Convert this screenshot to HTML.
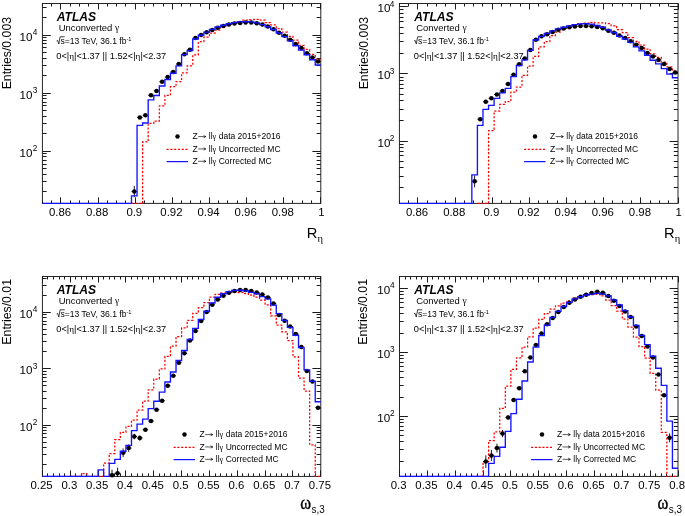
<!DOCTYPE html>
<html><head><meta charset="utf-8"><title>ATLAS shower shapes</title>
<style>html,body{margin:0;padding:0;background:#fff;}body{width:685px;height:516px;overflow:hidden;font-family:"Liberation Sans",sans-serif;}svg{display:block;will-change:transform;}</style>
</head><body>
<svg width="685" height="516" viewBox="0 0 685 516" font-family='"Liberation Sans", sans-serif' fill="#000"><g>
<path d="M42.5 203.4v-3M42.5 3.5v3M51.5 203.4v-3M51.5 3.5v3M60.5 203.4v-6M60.5 3.5v6M70.5 203.4v-3M70.5 3.5v3M79.5 203.4v-3M79.5 3.5v3M88.5 203.4v-3M88.5 3.5v3M98.5 203.4v-6M98.5 3.5v6M107.5 203.4v-3M107.5 3.5v3M116.5 203.4v-3M116.5 3.5v3M125.5 203.4v-3M125.5 3.5v3M135.5 203.4v-6M135.5 3.5v6M144.5 203.4v-3M144.5 3.5v3M153.5 203.4v-3M153.5 3.5v3M163.5 203.4v-3M163.5 3.5v3M172.5 203.4v-6M172.5 3.5v6M181.5 203.4v-3M181.5 3.5v3M190.5 203.4v-3M190.5 3.5v3M200.5 203.4v-3M200.5 3.5v3M209.5 203.4v-6M209.5 3.5v6M218.5 203.4v-3M218.5 3.5v3M227.5 203.4v-3M227.5 3.5v3M237.5 203.4v-3M237.5 3.5v3M246.5 203.4v-6M246.5 3.5v6M255.5 203.4v-3M255.5 3.5v3M265.5 203.4v-3M265.5 3.5v3M274.5 203.4v-3M274.5 3.5v3M283.5 203.4v-6M283.5 3.5v6M292.5 203.4v-3M292.5 3.5v3M302.5 203.4v-3M302.5 3.5v3M311.5 203.4v-3M311.5 3.5v3M320.5 203.4v-6M320.5 3.5v6M42.4 191.5h4.2M320.8 191.5h-4.2M42.4 181.5h4.2M320.8 181.5h-4.2M42.4 174.5h4.2M320.8 174.5h-4.2M42.4 168.5h4.2M320.8 168.5h-4.2M42.4 164.5h4.2M320.8 164.5h-4.2M42.4 160.5h4.2M320.8 160.5h-4.2M42.4 156.5h4.2M320.8 156.5h-4.2M42.4 153.5h4.2M320.8 153.5h-4.2M42.4 151.5h8.4M320.8 151.5h-8.4M42.4 133.5h4.2M320.8 133.5h-4.2M42.4 123.5h4.2M320.8 123.5h-4.2M42.4 116.5h4.2M320.8 116.5h-4.2M42.4 110.5h4.2M320.8 110.5h-4.2M42.4 105.5h4.2M320.8 105.5h-4.2M42.4 102.5h4.2M320.8 102.5h-4.2M42.4 98.5h4.2M320.8 98.5h-4.2M42.4 95.5h4.2M320.8 95.5h-4.2M42.4 93.5h8.4M320.8 93.5h-8.4M42.4 75.5h4.2M320.8 75.5h-4.2M42.4 65.5h4.2M320.8 65.5h-4.2M42.4 58.5h4.2M320.8 58.5h-4.2M42.4 52.5h4.2M320.8 52.5h-4.2M42.4 47.5h4.2M320.8 47.5h-4.2M42.4 43.5h4.2M320.8 43.5h-4.2M42.4 40.5h4.2M320.8 40.5h-4.2M42.4 37.5h4.2M320.8 37.5h-4.2M42.4 35.5h8.4M320.8 35.5h-8.4M42.4 17.5h4.2M320.8 17.5h-4.2M42.4 7.5h4.2M320.8 7.5h-4.2" stroke="#1c1c1c" stroke-width="1" fill="none"/>
<rect x="42.4" y="3.5" width="278.4" height="199.9" fill="none" stroke="#1c1c1c" stroke-width="0.95"/>
<text x="60.06" y="215.9" font-size="11.4" text-anchor="middle">0.86</text>
<text x="97.18" y="215.9" font-size="11.4" text-anchor="middle">0.88</text>
<text x="134.3" y="215.9" font-size="11.4" text-anchor="middle">0.9</text>
<text x="171.42" y="215.9" font-size="11.4" text-anchor="middle">0.92</text>
<text x="208.54" y="215.9" font-size="11.4" text-anchor="middle">0.94</text>
<text x="245.66" y="215.9" font-size="11.4" text-anchor="middle">0.96</text>
<text x="282.78" y="215.9" font-size="11.4" text-anchor="middle">0.98</text>
<text x="321.5" y="215.9" font-size="11.4" text-anchor="middle">1</text>
<text x="32.5" y="156.7" font-size="11.6" text-anchor="end">10</text>
<text x="32.8" y="151" font-size="8.3">2</text>
<text x="32.5" y="98.6" font-size="11.6" text-anchor="end">10</text>
<text x="32.8" y="92.9" font-size="8.3">3</text>
<text x="32.5" y="40.5" font-size="11.6" text-anchor="end">10</text>
<text x="32.8" y="34.8" font-size="8.3">4</text>
<text transform="translate(11.1 16.9) rotate(-90)" font-size="12.3" text-anchor="end">Entries/0.003</text>
<text x="306.8" y="238.4" font-size="14.7">R</text>
<text x="317.6" y="241.6" font-size="10.5" font-family='"Liberation Serif", serif'>η</text>
<path d="M131.49 203.4H137.06H142.62V141.8H148.19V123.3H153.76V121H159.33V105.9H164.9V95.4H170.46V86.7H176.03V81.5H181.6V72.8H187.17V65.8H192.74V54.9H198.3V41.7H203.87V37.1H209.44V33H215.01V30.1H220.58V27.2H226.14V24.6H231.71V22.9H237.28V21.5H242.85V20.2H248.42V19.6H253.98V19.4H259.55V20.2H265.12V22.5H270.69V24.9H276.26V28.6H281.82V32.1H287.39V36.3H292.96V40H298.53V45.3H304.1V49.4H309.66V54.4H315.23V59.3H320.8" stroke="#ff0000" stroke-width="1.25" stroke-dasharray="2.1 1.67" fill="none"/>
<circle cx="134.27" cy="191.5" r="2.25"/>
<circle cx="139.84" cy="117.4" r="2.25"/>
<circle cx="145.41" cy="115.3" r="2.25"/>
<circle cx="150.98" cy="95.2" r="2.25"/>
<circle cx="156.54" cy="90.9" r="2.25"/>
<circle cx="162.11" cy="81.8" r="2.25"/>
<circle cx="167.68" cy="77.1" r="2.25"/>
<circle cx="173.25" cy="71.9" r="2.25"/>
<circle cx="178.82" cy="64" r="2.25"/>
<circle cx="184.38" cy="54.2" r="2.25"/>
<circle cx="189.95" cy="49.8" r="2.25"/>
<circle cx="195.52" cy="38" r="2.25"/>
<circle cx="201.09" cy="35.1" r="2.25"/>
<circle cx="206.66" cy="32.2" r="2.25"/>
<circle cx="212.22" cy="29.9" r="2.25"/>
<circle cx="217.79" cy="27.8" r="2.25"/>
<circle cx="223.36" cy="26" r="2.25"/>
<circle cx="228.93" cy="24.5" r="2.25"/>
<circle cx="234.5" cy="23.5" r="2.25"/>
<circle cx="240.06" cy="22.9" r="2.25"/>
<circle cx="245.63" cy="22.5" r="2.25"/>
<circle cx="251.2" cy="22.4" r="2.25"/>
<circle cx="256.77" cy="23.2" r="2.25"/>
<circle cx="262.34" cy="24.6" r="2.25"/>
<circle cx="267.9" cy="26.6" r="2.25"/>
<circle cx="273.47" cy="29.3" r="2.25"/>
<circle cx="279.04" cy="32.7" r="2.25"/>
<circle cx="284.61" cy="35.7" r="2.25"/>
<circle cx="290.18" cy="39.7" r="2.25"/>
<circle cx="295.74" cy="44.1" r="2.25"/>
<circle cx="301.31" cy="48.1" r="2.25"/>
<circle cx="306.88" cy="53.2" r="2.25"/>
<circle cx="312.45" cy="57.5" r="2.25"/>
<circle cx="318.02" cy="61.6" r="2.25"/>
<path d="M134.27 185.8V197.2M131.49 191.5h5.57M137.06 117.4h5.57M142.62 115.3h5.57M148.19 95.2h5.57M153.76 90.9h5.57M159.33 81.8h5.57M164.9 77.1h5.57M170.46 71.9h5.57M176.03 64h5.57M181.6 54.2h5.57M187.17 49.8h5.57M192.74 38h5.57M198.3 35.1h5.57M203.87 32.2h5.57M209.44 29.9h5.57M215.01 27.8h5.57M220.58 26h5.57M226.14 24.5h5.57M231.71 23.5h5.57M237.28 22.9h5.57M242.85 22.5h5.57M248.42 22.4h5.57M253.98 23.2h5.57M259.55 24.6h5.57M265.12 26.6h5.57M270.69 29.3h5.57M276.26 32.7h5.57M281.82 35.7h5.57M287.39 39.7h5.57M292.96 44.1h5.57M298.53 48.1h5.57M304.1 53.2h5.57M309.66 57.5h5.57M315.23 61.6h5.57" stroke="#000" stroke-width="0.9" fill="none"/>
<path d="M42.4 203.4H47.97H53.54H59.1H64.67H70.24H75.81H81.38H86.94H92.51H98.08H103.65H109.22H114.78H120.35H125.92H131.49V195.9H137.06V125.4H142.62V123H148.19V99.8H153.76V95.5H159.33V86H164.9V79.5H170.46V73.2H176.03V65.9H181.6V54.6H187.17V50.5H192.74V39H198.3V35.2H203.87V32.1H209.44V29.3H215.01V27H220.58V25.2H226.14V23.7H231.71V22.6H237.28V21.9H242.85V21.7H248.42V21.9H253.98V22.8H259.55V24.6H265.12V26.7H270.69V29.5H276.26V33H281.82V36.6H287.39V40.8H292.96V45.7H298.53V50.1H304.1V54.7H309.66V59.7H315.23V65H320.8" stroke="#1414ff" stroke-width="1.35" fill="none" stroke-linejoin="miter"/>
<text x="56.7" y="20.6" font-size="12.1" font-weight="bold" font-style="italic">ATLAS</text>
<text x="58.8" y="31" font-size="9.45">Unconverted <tspan font-family='"Liberation Serif", serif'>γ</tspan></text>
<path d="M56.6 40.9l1.0 -0.5l1.2 3.6l1.3 -7.2h4.6" stroke="#000" stroke-width="0.75" fill="none"/>
<text x="60.6" y="44.3" font-size="8.55">s=13 TeV, 36.1 fb<tspan font-size="5.6" dy="-3.6">-1</tspan></text>
<text x="56.3" y="59" font-size="9.24">0&lt;|<tspan font-family='"Liberation Serif", serif'>η</tspan>|&lt;1.37 || 1.52&lt;|<tspan font-family='"Liberation Serif", serif'>η</tspan>|&lt;2.37</text>
<circle cx="177.5" cy="136.4" r="2.25"/>
<path d="M166.6 149.3h20.9" stroke="#ff0000" stroke-width="1.25" stroke-dasharray="2.1 1.67" fill="none"/>
<path d="M166.6 161.6h21.4" stroke="#1414ff" stroke-width="1.25" fill="none"/>
<text x="192.6" y="139.2" font-size="8.5">Z</text>
<path d="M198.1 136.6h7.6m-2.1 -1.2l2.3 1.2l-2.3 1.2" stroke="#000" stroke-width="0.65" fill="none"/>
<text x="208.8" y="139.2" font-size="8.5">ll<tspan font-family='"Liberation Serif", serif'>γ</tspan> data 2015+2016</text>
<text x="192.6" y="151.55" font-size="8.5">Z</text>
<path d="M198.1 148.95h7.6m-2.1 -1.2l2.3 1.2l-2.3 1.2" stroke="#000" stroke-width="0.65" fill="none"/>
<text x="208.8" y="151.55" font-size="8.5">ll<tspan font-family='"Liberation Serif", serif'>γ</tspan> Uncorrected MC</text>
<text x="192.6" y="163.9" font-size="8.5">Z</text>
<path d="M198.1 161.3h7.6m-2.1 -1.2l2.3 1.2l-2.3 1.2" stroke="#000" stroke-width="0.65" fill="none"/>
<text x="208.8" y="163.9" font-size="8.5">ll<tspan font-family='"Liberation Serif", serif'>γ</tspan> Corrected MC</text>
</g>
<g>
<path d="M399.5 203.4v-3M399.5 3.5v3M408.5 203.4v-3M408.5 3.5v3M417.5 203.4v-6M417.5 3.5v6M427.5 203.4v-3M427.5 3.5v3M436.5 203.4v-3M436.5 3.5v3M445.5 203.4v-3M445.5 3.5v3M455.5 203.4v-6M455.5 3.5v6M464.5 203.4v-3M464.5 3.5v3M473.5 203.4v-3M473.5 3.5v3M482.5 203.4v-3M482.5 3.5v3M492.5 203.4v-6M492.5 3.5v6M501.5 203.4v-3M501.5 3.5v3M510.5 203.4v-3M510.5 3.5v3M520.5 203.4v-3M520.5 3.5v3M529.5 203.4v-6M529.5 3.5v6M538.5 203.4v-3M538.5 3.5v3M547.5 203.4v-3M547.5 3.5v3M557.5 203.4v-3M557.5 3.5v3M566.5 203.4v-6M566.5 3.5v6M575.5 203.4v-3M575.5 3.5v3M585.5 203.4v-3M585.5 3.5v3M594.5 203.4v-3M594.5 3.5v3M603.5 203.4v-6M603.5 3.5v6M612.5 203.4v-3M612.5 3.5v3M622.5 203.4v-3M622.5 3.5v3M631.5 203.4v-3M631.5 3.5v3M640.5 203.4v-6M640.5 3.5v6M650.5 203.4v-3M650.5 3.5v3M659.5 203.4v-3M659.5 3.5v3M668.5 203.4v-3M668.5 3.5v3M678.5 203.4v-6M678.5 3.5v6M399.4 187.5h4.2M678 187.5h-4.2M399.4 176.5h4.2M678 176.5h-4.2M399.4 167.5h4.2M678 167.5h-4.2M399.4 161.5h4.2M678 161.5h-4.2M399.4 155.5h4.2M678 155.5h-4.2M399.4 151.5h4.2M678 151.5h-4.2M399.4 147.5h4.2M678 147.5h-4.2M399.4 144.5h4.2M678 144.5h-4.2M399.4 141.5h8.4M678 141.5h-8.4M399.4 120.5h4.2M678 120.5h-4.2M399.4 109.5h4.2M678 109.5h-4.2M399.4 100.5h4.2M678 100.5h-4.2M399.4 94.5h4.2M678 94.5h-4.2M399.4 88.5h4.2M678 88.5h-4.2M399.4 84.5h4.2M678 84.5h-4.2M399.4 80.5h4.2M678 80.5h-4.2M399.4 77.5h4.2M678 77.5h-4.2M399.4 73.5h8.4M678 73.5h-8.4M399.4 53.5h4.2M678 53.5h-4.2M399.4 41.5h4.2M678 41.5h-4.2M399.4 33.5h4.2M678 33.5h-4.2M399.4 27.5h4.2M678 27.5h-4.2M399.4 21.5h4.2M678 21.5h-4.2M399.4 17.5h4.2M678 17.5h-4.2M399.4 13.5h4.2M678 13.5h-4.2M399.4 9.5h4.2M678 9.5h-4.2M399.4 6.5h8.4M678 6.5h-8.4" stroke="#1c1c1c" stroke-width="1" fill="none"/>
<rect x="399.4" y="3.5" width="278.6" height="199.9" fill="none" stroke="#1c1c1c" stroke-width="0.95"/>
<text x="417.07" y="215.9" font-size="11.4" text-anchor="middle">0.86</text>
<text x="454.22" y="215.9" font-size="11.4" text-anchor="middle">0.88</text>
<text x="491.37" y="215.9" font-size="11.4" text-anchor="middle">0.9</text>
<text x="528.51" y="215.9" font-size="11.4" text-anchor="middle">0.92</text>
<text x="565.66" y="215.9" font-size="11.4" text-anchor="middle">0.94</text>
<text x="602.81" y="215.9" font-size="11.4" text-anchor="middle">0.96</text>
<text x="639.95" y="215.9" font-size="11.4" text-anchor="middle">0.98</text>
<text x="678.7" y="215.9" font-size="11.4" text-anchor="middle">1</text>
<text x="390.4" y="146.54" font-size="11.6" text-anchor="end">10</text>
<text x="389.8" y="140.84" font-size="8.3">2</text>
<text x="390.4" y="79.47" font-size="11.6" text-anchor="end">10</text>
<text x="389.8" y="73.77" font-size="8.3">3</text>
<text x="390.4" y="12.4" font-size="11.6" text-anchor="end">10</text>
<text x="389.8" y="6.7" font-size="8.3">4</text>
<text transform="translate(368.1 16.9) rotate(-90)" font-size="12.3" text-anchor="end">Entries/0.003</text>
<text x="664" y="238.4" font-size="14.7">R</text>
<text x="674.8" y="241.6" font-size="10.5" font-family='"Liberation Serif", serif'>η</text>
<path d="M477.41 203.4H482.98H488.55V130.7H494.12V111H499.7V104.4H505.27V101.5H510.84V92.2H516.41V87H521.98V75.3H527.56V66.1H533.13V56.4H538.7V46.8H544.27V41.6H549.84V35.6H555.42V32.1H560.99V29H566.56V26.5H572.13V25H577.7V23.7H583.28V23.1H588.85V22.3H594.42V22.8H599.99H605.56V23.7H611.14V25.8H616.71V29.7H622.28V32.7H627.85V37.6H633.42V41.3H639V45H644.57V49.2H650.14V53.8H655.71V57.4H661.28V62H666.86V66.8H672.43V71.1H678" stroke="#ff0000" stroke-width="1.25" stroke-dasharray="2.1 1.67" fill="none"/>
<circle cx="474.62" cy="181.3" r="2.25"/>
<circle cx="480.19" cy="119.2" r="2.25"/>
<circle cx="485.77" cy="101.8" r="2.25"/>
<circle cx="491.34" cy="98.3" r="2.25"/>
<circle cx="496.91" cy="94.5" r="2.25"/>
<circle cx="502.48" cy="91" r="2.25"/>
<circle cx="508.05" cy="84" r="2.25"/>
<circle cx="513.63" cy="74.8" r="2.25"/>
<circle cx="519.2" cy="64.2" r="2.25"/>
<circle cx="524.77" cy="58.5" r="2.25"/>
<circle cx="530.34" cy="50" r="2.25"/>
<circle cx="535.91" cy="39.8" r="2.25"/>
<circle cx="541.49" cy="36.3" r="2.25"/>
<circle cx="547.06" cy="34.2" r="2.25"/>
<circle cx="552.63" cy="31.9" r="2.25"/>
<circle cx="558.2" cy="29.8" r="2.25"/>
<circle cx="563.77" cy="28.4" r="2.25"/>
<circle cx="569.35" cy="27.2" r="2.25"/>
<circle cx="574.92" cy="26.4" r="2.25"/>
<circle cx="580.49" cy="26" r="2.25"/>
<circle cx="586.06" cy="26" r="2.25"/>
<circle cx="591.63" cy="26.2" r="2.25"/>
<circle cx="597.21" cy="26.9" r="2.25"/>
<circle cx="602.78" cy="28.2" r="2.25"/>
<circle cx="608.35" cy="30.7" r="2.25"/>
<circle cx="613.92" cy="32.7" r="2.25"/>
<circle cx="619.49" cy="35.5" r="2.25"/>
<circle cx="625.07" cy="38" r="2.25"/>
<circle cx="630.64" cy="41.3" r="2.25"/>
<circle cx="636.21" cy="44.7" r="2.25"/>
<circle cx="641.78" cy="48.1" r="2.25"/>
<circle cx="647.35" cy="53" r="2.25"/>
<circle cx="652.93" cy="56.6" r="2.25"/>
<circle cx="658.5" cy="59.9" r="2.25"/>
<circle cx="664.07" cy="64" r="2.25"/>
<circle cx="669.64" cy="69" r="2.25"/>
<circle cx="675.21" cy="72.5" r="2.25"/>
<path d="M474.62 175.3V187.3M471.84 181.3h5.57M477.41 119.2h5.57M482.98 101.8h5.57M488.55 98.3h5.57M494.12 94.5h5.57M499.7 91h5.57M505.27 84h5.57M510.84 74.8h5.57M516.41 64.2h5.57M521.98 58.5h5.57M527.56 50h5.57M533.13 39.8h5.57M538.7 36.3h5.57M544.27 34.2h5.57M549.84 31.9h5.57M555.42 29.8h5.57M560.99 28.4h5.57M566.56 27.2h5.57M572.13 26.4h5.57M577.7 26h5.57M583.28 26h5.57M588.85 26.2h5.57M594.42 26.9h5.57M599.99 28.2h5.57M605.56 30.7h5.57M611.14 32.7h5.57M616.71 35.5h5.57M622.28 38h5.57M627.85 41.3h5.57M633.42 44.7h5.57M639 48.1h5.57M644.57 53h5.57M650.14 56.6h5.57M655.71 59.9h5.57M661.28 64h5.57M666.86 69h5.57M672.43 72.5h5.57" stroke="#000" stroke-width="0.9" fill="none"/>
<path d="M399.4 203.4H404.97H410.54H416.12H421.69H427.26H432.83H438.4H443.98H449.55H455.12H460.69H466.26H471.84V174.9H477.41V125.4H482.98V109.3H488.55V105.3H494.12V98.3H499.7V92.8H505.27V88.4H510.84V76.6H516.41V65.6H521.98V59.9H527.56V50.3H533.13V40H538.7V36.3H544.27V33.4H549.84V30.9H555.42V28.9H560.99V27.2H566.56V25.8H572.13V24.6H577.7V23.9H583.28V23.7H588.85V24.1H594.42V25.5H599.99V27.2H605.56V30H611.14V32.5H616.71V36.2H622.28V39H627.85V42.4H633.42V46.8H639V50.9H644.57V55.2H650.14V60.2H655.71V63.9H661.28V68.6H666.86V74.1H672.43V77.7H678" stroke="#1414ff" stroke-width="1.35" fill="none" stroke-linejoin="miter"/>
<text x="414.2" y="20.6" font-size="12.1" font-weight="bold" font-style="italic">ATLAS</text>
<text x="416.3" y="31" font-size="9.45">Converted <tspan font-family='"Liberation Serif", serif'>γ</tspan></text>
<path d="M414.1 40.9l1.0 -0.5l1.2 3.6l1.3 -7.2h4.6" stroke="#000" stroke-width="0.75" fill="none"/>
<text x="418.1" y="44.3" font-size="8.55">s=13 TeV, 36.1 fb<tspan font-size="5.6" dy="-3.6">-1</tspan></text>
<text x="413.8" y="59" font-size="9.24">0&lt;|<tspan font-family='"Liberation Serif", serif'>η</tspan>|&lt;1.37 || 1.52&lt;|<tspan font-family='"Liberation Serif", serif'>η</tspan>|&lt;2.37</text>
<circle cx="535" cy="136.4" r="2.25"/>
<path d="M524.1 149.3h20.9" stroke="#ff0000" stroke-width="1.25" stroke-dasharray="2.1 1.67" fill="none"/>
<path d="M524.1 161.6h21.4" stroke="#1414ff" stroke-width="1.25" fill="none"/>
<text x="550.1" y="139.2" font-size="8.5">Z</text>
<path d="M555.6 136.6h7.6m-2.1 -1.2l2.3 1.2l-2.3 1.2" stroke="#000" stroke-width="0.65" fill="none"/>
<text x="566.3" y="139.2" font-size="8.5">ll<tspan font-family='"Liberation Serif", serif'>γ</tspan> data 2015+2016</text>
<text x="550.1" y="151.55" font-size="8.5">Z</text>
<path d="M555.6 148.95h7.6m-2.1 -1.2l2.3 1.2l-2.3 1.2" stroke="#000" stroke-width="0.65" fill="none"/>
<text x="566.3" y="151.55" font-size="8.5">ll<tspan font-family='"Liberation Serif", serif'>γ</tspan> Uncorrected MC</text>
<text x="550.1" y="163.9" font-size="8.5">Z</text>
<path d="M555.6 161.3h7.6m-2.1 -1.2l2.3 1.2l-2.3 1.2" stroke="#000" stroke-width="0.65" fill="none"/>
<text x="566.3" y="163.9" font-size="8.5">ll<tspan font-family='"Liberation Serif", serif'>γ</tspan> Corrected MC</text>
</g>
<g>
<path d="M42.5 476.4v-6M42.5 276.5v6M47.5 476.4v-3M47.5 276.5v3M53.5 476.4v-3M53.5 276.5v3M59.5 476.4v-3M59.5 276.5v3M64.5 476.4v-3M64.5 276.5v3M70.5 476.4v-6M70.5 276.5v6M75.5 476.4v-3M75.5 276.5v3M81.5 476.4v-3M81.5 276.5v3M86.5 476.4v-3M86.5 276.5v3M92.5 476.4v-3M92.5 276.5v3M98.5 476.4v-6M98.5 276.5v6M103.5 476.4v-3M103.5 276.5v3M109.5 476.4v-3M109.5 276.5v3M114.5 476.4v-3M114.5 276.5v3M120.5 476.4v-3M120.5 276.5v3M125.5 476.4v-6M125.5 276.5v6M131.5 476.4v-3M131.5 276.5v3M137.5 476.4v-3M137.5 276.5v3M142.5 476.4v-3M142.5 276.5v3M148.5 476.4v-3M148.5 276.5v3M153.5 476.4v-6M153.5 276.5v6M159.5 476.4v-3M159.5 276.5v3M164.5 476.4v-3M164.5 276.5v3M170.5 476.4v-3M170.5 276.5v3M176.5 476.4v-3M176.5 276.5v3M181.5 476.4v-6M181.5 276.5v6M187.5 476.4v-3M187.5 276.5v3M192.5 476.4v-3M192.5 276.5v3M198.5 476.4v-3M198.5 276.5v3M203.5 476.4v-3M203.5 276.5v3M209.5 476.4v-6M209.5 276.5v6M215.5 476.4v-3M215.5 276.5v3M220.5 476.4v-3M220.5 276.5v3M226.5 476.4v-3M226.5 276.5v3M231.5 476.4v-3M231.5 276.5v3M237.5 476.4v-6M237.5 276.5v6M242.5 476.4v-3M242.5 276.5v3M248.5 476.4v-3M248.5 276.5v3M253.5 476.4v-3M253.5 276.5v3M259.5 476.4v-3M259.5 276.5v3M265.5 476.4v-6M265.5 276.5v6M270.5 476.4v-3M270.5 276.5v3M276.5 476.4v-3M276.5 276.5v3M281.5 476.4v-3M281.5 276.5v3M287.5 476.4v-3M287.5 276.5v3M292.5 476.4v-6M292.5 276.5v6M298.5 476.4v-3M298.5 276.5v3M304.5 476.4v-3M304.5 276.5v3M309.5 476.4v-3M309.5 276.5v3M315.5 476.4v-3M315.5 276.5v3M320.5 476.4v-6M320.5 276.5v6M42.4 464.5h4.2M320.8 464.5h-4.2M42.4 454.5h4.2M320.8 454.5h-4.2M42.4 447.5h4.2M320.8 447.5h-4.2M42.4 442.5h4.2M320.8 442.5h-4.2M42.4 437.5h4.2M320.8 437.5h-4.2M42.4 433.5h4.2M320.8 433.5h-4.2M42.4 430.5h4.2M320.8 430.5h-4.2M42.4 427.5h4.2M320.8 427.5h-4.2M42.4 425.5h8.4M320.8 425.5h-8.4M42.4 408.5h4.2M320.8 408.5h-4.2M42.4 398.5h4.2M320.8 398.5h-4.2M42.4 391.5h4.2M320.8 391.5h-4.2M42.4 385.5h4.2M320.8 385.5h-4.2M42.4 381.5h4.2M320.8 381.5h-4.2M42.4 377.5h4.2M320.8 377.5h-4.2M42.4 374.5h4.2M320.8 374.5h-4.2M42.4 371.5h4.2M320.8 371.5h-4.2M42.4 368.5h8.4M320.8 368.5h-8.4M42.4 351.5h4.2M320.8 351.5h-4.2M42.4 341.5h4.2M320.8 341.5h-4.2M42.4 334.5h4.2M320.8 334.5h-4.2M42.4 329.5h4.2M320.8 329.5h-4.2M42.4 324.5h4.2M320.8 324.5h-4.2M42.4 321.5h4.2M320.8 321.5h-4.2M42.4 317.5h4.2M320.8 317.5h-4.2M42.4 314.5h4.2M320.8 314.5h-4.2M42.4 312.5h8.4M320.8 312.5h-8.4M42.4 295.5h4.2M320.8 295.5h-4.2M42.4 285.5h4.2M320.8 285.5h-4.2M42.4 278.5h4.2M320.8 278.5h-4.2" stroke="#1c1c1c" stroke-width="1" fill="none"/>
<rect x="42.4" y="276.5" width="278.4" height="199.9" fill="none" stroke="#1c1c1c" stroke-width="0.95"/>
<text x="41.5" y="488.9" font-size="11.4" text-anchor="middle">0.25</text>
<text x="69.34" y="488.9" font-size="11.4" text-anchor="middle">0.3</text>
<text x="97.18" y="488.9" font-size="11.4" text-anchor="middle">0.35</text>
<text x="125.02" y="488.9" font-size="11.4" text-anchor="middle">0.4</text>
<text x="152.86" y="488.9" font-size="11.4" text-anchor="middle">0.45</text>
<text x="180.7" y="488.9" font-size="11.4" text-anchor="middle">0.5</text>
<text x="208.54" y="488.9" font-size="11.4" text-anchor="middle">0.55</text>
<text x="236.38" y="488.9" font-size="11.4" text-anchor="middle">0.6</text>
<text x="264.22" y="488.9" font-size="11.4" text-anchor="middle">0.65</text>
<text x="292.06" y="488.9" font-size="11.4" text-anchor="middle">0.7</text>
<text x="319.9" y="488.9" font-size="11.4" text-anchor="middle">0.75</text>
<text x="32.5" y="430.7" font-size="11.6" text-anchor="end">10</text>
<text x="32.8" y="425" font-size="8.3">2</text>
<text x="32.5" y="374.25" font-size="11.6" text-anchor="end">10</text>
<text x="32.8" y="368.55" font-size="8.3">3</text>
<text x="32.5" y="317.8" font-size="11.6" text-anchor="end">10</text>
<text x="32.8" y="312.1" font-size="8.3">4</text>
<text transform="translate(11.1 279) rotate(-90)" font-size="12.3" text-anchor="end">Entries/0.01</text>
<text transform="translate(300.2 508.5) scale(1.13 1.26)" font-size="14.6" stroke="#000" stroke-width="0.3" font-family='"Liberation Serif", serif'>ω</text>
<text transform="translate(311.5 512.8) scale(1 1.14)" font-size="9.9">s,3</text>
<path d="M70.24 476.4H75.81H81.38V473.5H86.94V476.4H92.51H98.08H103.65V463.1H109.22V453.5H114.78V439.6H120.35V432.3H125.92V426.4H131.49V420.2H137.06V410.1H142.62V401.2H148.19V389.8H153.76V379H159.33V368.9H164.9V356.3H170.46V346.2H176.03V336.6H181.6V327.8H187.17V320.3H192.74V313.3H198.3V307.7H203.87V302.5H209.44V297.2H215.01V294.3H220.58V293.1H226.14V292.3H231.71V291.9H237.28V292.5H242.85V293.5H248.42V295.1H253.98V297.2H259.55V300H265.12V304.8H270.69V315.9H276.26V325H281.82V331.9H287.39V340.5H292.96V356.9H298.53V378.1H304.1V391H309.66V444.9H315.23V476.4H320.8" stroke="#ff0000" stroke-width="1.25" stroke-dasharray="2.1 1.67" fill="none"/>
<circle cx="112" cy="475.2" r="2.25"/>
<circle cx="117.57" cy="473.2" r="2.25"/>
<circle cx="123.14" cy="452.8" r="2.25"/>
<circle cx="128.7" cy="448.1" r="2.25"/>
<circle cx="134.27" cy="436.5" r="2.25"/>
<circle cx="139.84" cy="438" r="2.25"/>
<circle cx="145.41" cy="429.8" r="2.25"/>
<circle cx="150.98" cy="421" r="2.25"/>
<circle cx="156.54" cy="409.7" r="2.25"/>
<circle cx="162.11" cy="400.7" r="2.25"/>
<circle cx="167.68" cy="385.8" r="2.25"/>
<circle cx="173.25" cy="375.8" r="2.25"/>
<circle cx="178.82" cy="362.8" r="2.25"/>
<circle cx="184.38" cy="353.2" r="2.25"/>
<circle cx="189.95" cy="340.6" r="2.25"/>
<circle cx="195.52" cy="331" r="2.25"/>
<circle cx="201.09" cy="320.9" r="2.25"/>
<circle cx="206.66" cy="312.1" r="2.25"/>
<circle cx="212.22" cy="304.8" r="2.25"/>
<circle cx="217.79" cy="299.5" r="2.25"/>
<circle cx="223.36" cy="295.8" r="2.25"/>
<circle cx="228.93" cy="292.8" r="2.25"/>
<circle cx="234.5" cy="291" r="2.25"/>
<circle cx="240.06" cy="290" r="2.25"/>
<circle cx="245.63" cy="290.1" r="2.25"/>
<circle cx="251.2" cy="290.9" r="2.25"/>
<circle cx="256.77" cy="292.5" r="2.25"/>
<circle cx="262.34" cy="294.6" r="2.25"/>
<circle cx="267.9" cy="297.4" r="2.25"/>
<circle cx="273.47" cy="303.4" r="2.25"/>
<circle cx="279.04" cy="315" r="2.25"/>
<circle cx="284.61" cy="320.7" r="2.25"/>
<circle cx="290.18" cy="326.6" r="2.25"/>
<circle cx="295.74" cy="334" r="2.25"/>
<circle cx="301.31" cy="347.1" r="2.25"/>
<circle cx="306.88" cy="370.9" r="2.25"/>
<circle cx="312.45" cy="381.6" r="2.25"/>
<circle cx="318.02" cy="407.7" r="2.25"/>
<path d="M112 469.7V477M109.22 475.2h5.57M117.57 467.6V477M114.78 473.2h5.57M123.14 448.5V457.1M120.35 452.8h5.57M128.7 444.4V451.8M125.92 448.1h5.57M134.27 433.7V439.3M131.49 436.5h5.57M139.84 435.3V440.7M137.06 438h5.57M142.62 429.8h5.57M148.19 421h5.57M153.76 409.7h5.57M159.33 400.7h5.57M164.9 385.8h5.57M170.46 375.8h5.57M176.03 362.8h5.57M181.6 353.2h5.57M187.17 340.6h5.57M192.74 331h5.57M198.3 320.9h5.57M203.87 312.1h5.57M209.44 304.8h5.57M215.01 299.5h5.57M220.58 295.8h5.57M226.14 292.8h5.57M231.71 291h5.57M237.28 290h5.57M242.85 290.1h5.57M248.42 290.9h5.57M253.98 292.5h5.57M259.55 294.6h5.57M265.12 297.4h5.57M270.69 303.4h5.57M276.26 315h5.57M281.82 320.7h5.57M287.39 326.6h5.57M292.96 334h5.57M298.53 347.1h5.57M304.1 370.9h5.57M309.66 381.6h5.57M315.23 407.7h5.57" stroke="#000" stroke-width="0.9" fill="none"/>
<path d="M42.4 476.4H47.97H53.54H59.1H64.67H70.24H75.81H81.38H86.94H92.51H98.08V469.9H103.65V476.4H109.22V463.4H114.78V459.3H120.35V451.2H125.92V445.3H131.49V430.6H137.06V424.1H142.62V419.1H148.19V408.6H153.76V401.2H159.33V392.1H164.9V382H170.46V372H176.03V360.5H181.6V350.5H187.17V339.5H192.74V328.3H198.3V319.4H203.87V311.2H209.44V303H215.01V297.2H220.58V293.7H226.14V291.6H231.71V290.4H237.28V290.2H242.85V290.8H248.42V292.3H253.98V293.7H259.55V296.6H265.12V298.9H270.69V305.1H276.26V313.6H281.82V320.4H287.39V327.3H292.96V335.2H298.53V347.6H304.1V369.9H309.66V381.2H315.23V401.7H320.8" stroke="#1414ff" stroke-width="1.35" fill="none" stroke-linejoin="miter"/>
<text x="56.7" y="293.6" font-size="12.1" font-weight="bold" font-style="italic">ATLAS</text>
<text x="58.8" y="304" font-size="9.45">Unconverted <tspan font-family='"Liberation Serif", serif'>γ</tspan></text>
<path d="M56.6 313.9l1.0 -0.5l1.2 3.6l1.3 -7.2h4.6" stroke="#000" stroke-width="0.75" fill="none"/>
<text x="60.6" y="317.3" font-size="8.55">s=13 TeV, 36.1 fb<tspan font-size="5.6" dy="-3.6">-1</tspan></text>
<text x="56.3" y="332" font-size="9.24">0&lt;|<tspan font-family='"Liberation Serif", serif'>η</tspan>|&lt;1.37 || 1.52&lt;|<tspan font-family='"Liberation Serif", serif'>η</tspan>|&lt;2.37</text>
<circle cx="184.5" cy="434.4" r="2.25"/>
<path d="M173.6 447.3h20.9" stroke="#ff0000" stroke-width="1.25" stroke-dasharray="2.1 1.67" fill="none"/>
<path d="M173.6 459.6h21.4" stroke="#1414ff" stroke-width="1.25" fill="none"/>
<text x="199.6" y="437.2" font-size="8.5">Z</text>
<path d="M205.1 434.6h7.6m-2.1 -1.2l2.3 1.2l-2.3 1.2" stroke="#000" stroke-width="0.65" fill="none"/>
<text x="215.8" y="437.2" font-size="8.5">ll<tspan font-family='"Liberation Serif", serif'>γ</tspan> data 2015+2016</text>
<text x="199.6" y="449.55" font-size="8.5">Z</text>
<path d="M205.1 446.95h7.6m-2.1 -1.2l2.3 1.2l-2.3 1.2" stroke="#000" stroke-width="0.65" fill="none"/>
<text x="215.8" y="449.55" font-size="8.5">ll<tspan font-family='"Liberation Serif", serif'>γ</tspan> Uncorrected MC</text>
<text x="199.6" y="461.9" font-size="8.5">Z</text>
<path d="M205.1 459.3h7.6m-2.1 -1.2l2.3 1.2l-2.3 1.2" stroke="#000" stroke-width="0.65" fill="none"/>
<text x="215.8" y="461.9" font-size="8.5">ll<tspan font-family='"Liberation Serif", serif'>γ</tspan> Corrected MC</text>
</g>
<g>
<path d="M399.5 476.4v-6M399.5 276.5v6M405.5 476.4v-3M405.5 276.5v3M410.5 476.4v-3M410.5 276.5v3M416.5 476.4v-3M416.5 276.5v3M421.5 476.4v-3M421.5 276.5v3M427.5 476.4v-6M427.5 276.5v6M432.5 476.4v-3M432.5 276.5v3M438.5 476.4v-3M438.5 276.5v3M444.5 476.4v-3M444.5 276.5v3M449.5 476.4v-3M449.5 276.5v3M455.5 476.4v-6M455.5 276.5v6M460.5 476.4v-3M460.5 276.5v3M466.5 476.4v-3M466.5 276.5v3M471.5 476.4v-3M471.5 276.5v3M477.5 476.4v-3M477.5 276.5v3M483.5 476.4v-6M483.5 276.5v6M488.5 476.4v-3M488.5 276.5v3M494.5 476.4v-3M494.5 276.5v3M499.5 476.4v-3M499.5 276.5v3M505.5 476.4v-3M505.5 276.5v3M510.5 476.4v-6M510.5 276.5v6M516.5 476.4v-3M516.5 276.5v3M522.5 476.4v-3M522.5 276.5v3M527.5 476.4v-3M527.5 276.5v3M533.5 476.4v-3M533.5 276.5v3M538.5 476.4v-6M538.5 276.5v6M544.5 476.4v-3M544.5 276.5v3M549.5 476.4v-3M549.5 276.5v3M555.5 476.4v-3M555.5 276.5v3M561.5 476.4v-3M561.5 276.5v3M566.5 476.4v-6M566.5 276.5v6M572.5 476.4v-3M572.5 276.5v3M577.5 476.4v-3M577.5 276.5v3M583.5 476.4v-3M583.5 276.5v3M588.5 476.4v-3M588.5 276.5v3M594.5 476.4v-6M594.5 276.5v6M600.5 476.4v-3M600.5 276.5v3M605.5 476.4v-3M605.5 276.5v3M611.5 476.4v-3M611.5 276.5v3M616.5 476.4v-3M616.5 276.5v3M622.5 476.4v-6M622.5 276.5v6M627.5 476.4v-3M627.5 276.5v3M633.5 476.4v-3M633.5 276.5v3M639.5 476.4v-3M639.5 276.5v3M644.5 476.4v-3M644.5 276.5v3M650.5 476.4v-6M650.5 276.5v6M655.5 476.4v-3M655.5 276.5v3M661.5 476.4v-3M661.5 276.5v3M666.5 476.4v-3M666.5 276.5v3M672.5 476.4v-3M672.5 276.5v3M678.5 476.4v-6M678.5 276.5v6M399.5 461.5h4.2M678 461.5h-4.2M399.5 449.5h4.2M678 449.5h-4.2M399.5 441.5h4.2M678 441.5h-4.2M399.5 435.5h4.2M678 435.5h-4.2M399.5 430.5h4.2M678 430.5h-4.2M399.5 426.5h4.2M678 426.5h-4.2M399.5 422.5h4.2M678 422.5h-4.2M399.5 419.5h4.2M678 419.5h-4.2M399.5 416.5h8.4M678 416.5h-8.4M399.5 397.5h4.2M678 397.5h-4.2M399.5 385.5h4.2M678 385.5h-4.2M399.5 377.5h4.2M678 377.5h-4.2M399.5 371.5h4.2M678 371.5h-4.2M399.5 366.5h4.2M678 366.5h-4.2M399.5 362.5h4.2M678 362.5h-4.2M399.5 358.5h4.2M678 358.5h-4.2M399.5 355.5h4.2M678 355.5h-4.2M399.5 352.5h8.4M678 352.5h-8.4M399.5 333.5h4.2M678 333.5h-4.2M399.5 321.5h4.2M678 321.5h-4.2M399.5 313.5h4.2M678 313.5h-4.2M399.5 307.5h4.2M678 307.5h-4.2M399.5 302.5h4.2M678 302.5h-4.2M399.5 298.5h4.2M678 298.5h-4.2M399.5 294.5h4.2M678 294.5h-4.2M399.5 291.5h4.2M678 291.5h-4.2M399.5 288.5h8.4M678 288.5h-8.4" stroke="#1c1c1c" stroke-width="1" fill="none"/>
<rect x="399.5" y="276.5" width="278.5" height="199.9" fill="none" stroke="#1c1c1c" stroke-width="0.95"/>
<text x="398.6" y="488.9" font-size="11.4" text-anchor="middle">0.3</text>
<text x="426.45" y="488.9" font-size="11.4" text-anchor="middle">0.35</text>
<text x="454.3" y="488.9" font-size="11.4" text-anchor="middle">0.4</text>
<text x="482.15" y="488.9" font-size="11.4" text-anchor="middle">0.45</text>
<text x="510" y="488.9" font-size="11.4" text-anchor="middle">0.5</text>
<text x="537.85" y="488.9" font-size="11.4" text-anchor="middle">0.55</text>
<text x="565.7" y="488.9" font-size="11.4" text-anchor="middle">0.6</text>
<text x="593.55" y="488.9" font-size="11.4" text-anchor="middle">0.65</text>
<text x="621.4" y="488.9" font-size="11.4" text-anchor="middle">0.7</text>
<text x="649.25" y="488.9" font-size="11.4" text-anchor="middle">0.75</text>
<text x="677.1" y="488.9" font-size="11.4" text-anchor="middle">0.8</text>
<text x="390.1" y="421.9" font-size="11.6" text-anchor="end">10</text>
<text x="390.1" y="416.2" font-size="8.3">2</text>
<text x="390.1" y="357.95" font-size="11.6" text-anchor="end">10</text>
<text x="390.1" y="352.25" font-size="8.3">3</text>
<text x="390.1" y="294" font-size="11.6" text-anchor="end">10</text>
<text x="390.1" y="288.3" font-size="8.3">4</text>
<text transform="translate(367.1 279) rotate(-90)" font-size="12.3" text-anchor="end">Entries/0.01</text>
<text transform="translate(657.4 508.5) scale(1.13 1.26)" font-size="14.6" stroke="#000" stroke-width="0.3" font-family='"Liberation Serif", serif'>ω</text>
<text transform="translate(668.7 512.8) scale(1 1.14)" font-size="9.9">s,3</text>
<path d="M471.91 476.4H477.48H483.05V461.6H488.62V440.6H494.19V431.9H499.76V408.3H505.33V386.2H510.9V369.4H516.47V357.8H522.04V347.1H527.61V336.8H533.18V328.1H538.75V319.4H544.32V313.6H549.89V309H555.46V305.8H561.03V303.1H566.6V300.8H572.17V298H577.74V296.5H583.31V295.3H588.88V294.5H594.45V294.4H600.02V295.8H605.59V300H611.16V305.5H616.73V311H622.3V319H627.87V327H633.44V337.2H639.01V346.5H644.58V358.1H650.15V373.3H655.72V390.1H661.29V432.3H666.86V476.4H672.43H678" stroke="#ff0000" stroke-width="1.25" stroke-dasharray="2.1 1.67" fill="none"/>
<circle cx="485.84" cy="461.6" r="2.25"/>
<circle cx="491.4" cy="455.4" r="2.25"/>
<circle cx="496.98" cy="448.1" r="2.25"/>
<circle cx="502.55" cy="433.6" r="2.25"/>
<circle cx="508.12" cy="417.4" r="2.25"/>
<circle cx="513.68" cy="400" r="2.25"/>
<circle cx="519.25" cy="388.2" r="2.25"/>
<circle cx="524.83" cy="371.3" r="2.25"/>
<circle cx="530.39" cy="357.6" r="2.25"/>
<circle cx="535.97" cy="345" r="2.25"/>
<circle cx="541.53" cy="333.5" r="2.25"/>
<circle cx="547.11" cy="324.2" r="2.25"/>
<circle cx="552.67" cy="317.9" r="2.25"/>
<circle cx="558.25" cy="312.1" r="2.25"/>
<circle cx="563.82" cy="306.9" r="2.25"/>
<circle cx="569.38" cy="302.8" r="2.25"/>
<circle cx="574.96" cy="299.5" r="2.25"/>
<circle cx="580.52" cy="296.7" r="2.25"/>
<circle cx="586.1" cy="294.7" r="2.25"/>
<circle cx="591.66" cy="293" r="2.25"/>
<circle cx="597.24" cy="291.8" r="2.25"/>
<circle cx="602.81" cy="292.7" r="2.25"/>
<circle cx="608.38" cy="296" r="2.25"/>
<circle cx="613.95" cy="300.8" r="2.25"/>
<circle cx="619.51" cy="305.9" r="2.25"/>
<circle cx="625.09" cy="311.4" r="2.25"/>
<circle cx="630.65" cy="317" r="2.25"/>
<circle cx="636.23" cy="326.6" r="2.25"/>
<circle cx="641.8" cy="335.9" r="2.25"/>
<circle cx="647.37" cy="346.5" r="2.25"/>
<circle cx="652.93" cy="357.6" r="2.25"/>
<circle cx="658.5" cy="374.6" r="2.25"/>
<circle cx="664.08" cy="395.2" r="2.25"/>
<circle cx="669.64" cy="437.8" r="2.25"/>
<path d="M485.84 455.3V467.9M483.05 461.6h5.57M491.4 449.9V460.9M488.62 455.4h5.57M496.98 443.7V452.5M494.19 448.1h5.57M502.55 430V437.2M499.76 433.6h5.57M508.12 415.2V419.6M505.33 417.4h5.57M510.9 400h5.57M516.47 388.2h5.57M522.04 371.3h5.57M527.61 357.6h5.57M533.18 345h5.57M538.75 333.5h5.57M544.32 324.2h5.57M549.89 317.9h5.57M555.46 312.1h5.57M561.03 306.9h5.57M566.6 302.8h5.57M572.17 299.5h5.57M577.74 296.7h5.57M583.31 294.7h5.57M588.88 293h5.57M594.45 291.8h5.57M600.02 292.7h5.57M605.59 296h5.57M611.16 300.8h5.57M616.73 305.9h5.57M622.3 311.4h5.57M627.87 317h5.57M633.44 326.6h5.57M639.01 335.9h5.57M644.58 346.5h5.57M650.15 357.6h5.57M655.72 374.6h5.57M661.29 395.2h5.57M669.64 433.3V442.3M666.86 437.8h5.57" stroke="#000" stroke-width="0.9" fill="none"/>
<path d="M399.5 476.4H405.07H410.64H416.21H421.78H427.35H432.92H438.49H444.06H449.63H455.2H460.77H466.34H471.91H477.48H483.05H488.62V463.3H494.19V456.3H499.76V447.2H505.33V431.4H510.9V413.6H516.47V399.2H522.04V381H527.61V362H533.18V347.1H538.75V335.5H544.32V325.2H549.89V317.4H555.46V311.4H561.03V306.5H566.6V302.4H572.17V298.9H577.74V296.7H583.31V295H588.88V294.1H594.45V293.4H600.02V294.1H605.59V295.8H611.16V299.8H616.73V305H622.3V310.6H627.87V317H633.44V325.4H639.01V335.3H644.58V344.6H650.15V356.2H655.72V368.2H661.29V385.4H666.86V421.1H672.43V468.2H678" stroke="#1414ff" stroke-width="1.35" fill="none" stroke-linejoin="miter"/>
<text x="414.2" y="293.6" font-size="12.1" font-weight="bold" font-style="italic">ATLAS</text>
<text x="416.3" y="304" font-size="9.45">Converted <tspan font-family='"Liberation Serif", serif'>γ</tspan></text>
<path d="M414.1 313.9l1.0 -0.5l1.2 3.6l1.3 -7.2h4.6" stroke="#000" stroke-width="0.75" fill="none"/>
<text x="418.1" y="317.3" font-size="8.55">s=13 TeV, 36.1 fb<tspan font-size="5.6" dy="-3.6">-1</tspan></text>
<text x="413.8" y="332" font-size="9.24">0&lt;|<tspan font-family='"Liberation Serif", serif'>η</tspan>|&lt;1.37 || 1.52&lt;|<tspan font-family='"Liberation Serif", serif'>η</tspan>|&lt;2.37</text>
<circle cx="542" cy="434.4" r="2.25"/>
<path d="M531.1 447.3h20.9" stroke="#ff0000" stroke-width="1.25" stroke-dasharray="2.1 1.67" fill="none"/>
<path d="M531.1 459.6h21.4" stroke="#1414ff" stroke-width="1.25" fill="none"/>
<text x="557.1" y="437.2" font-size="8.5">Z</text>
<path d="M562.6 434.6h7.6m-2.1 -1.2l2.3 1.2l-2.3 1.2" stroke="#000" stroke-width="0.65" fill="none"/>
<text x="573.3" y="437.2" font-size="8.5">ll<tspan font-family='"Liberation Serif", serif'>γ</tspan> data 2015+2016</text>
<text x="557.1" y="449.55" font-size="8.5">Z</text>
<path d="M562.6 446.95h7.6m-2.1 -1.2l2.3 1.2l-2.3 1.2" stroke="#000" stroke-width="0.65" fill="none"/>
<text x="573.3" y="449.55" font-size="8.5">ll<tspan font-family='"Liberation Serif", serif'>γ</tspan> Uncorrected MC</text>
<text x="557.1" y="461.9" font-size="8.5">Z</text>
<path d="M562.6 459.3h7.6m-2.1 -1.2l2.3 1.2l-2.3 1.2" stroke="#000" stroke-width="0.65" fill="none"/>
<text x="573.3" y="461.9" font-size="8.5">ll<tspan font-family='"Liberation Serif", serif'>γ</tspan> Corrected MC</text>
</g></svg>
</body></html>
